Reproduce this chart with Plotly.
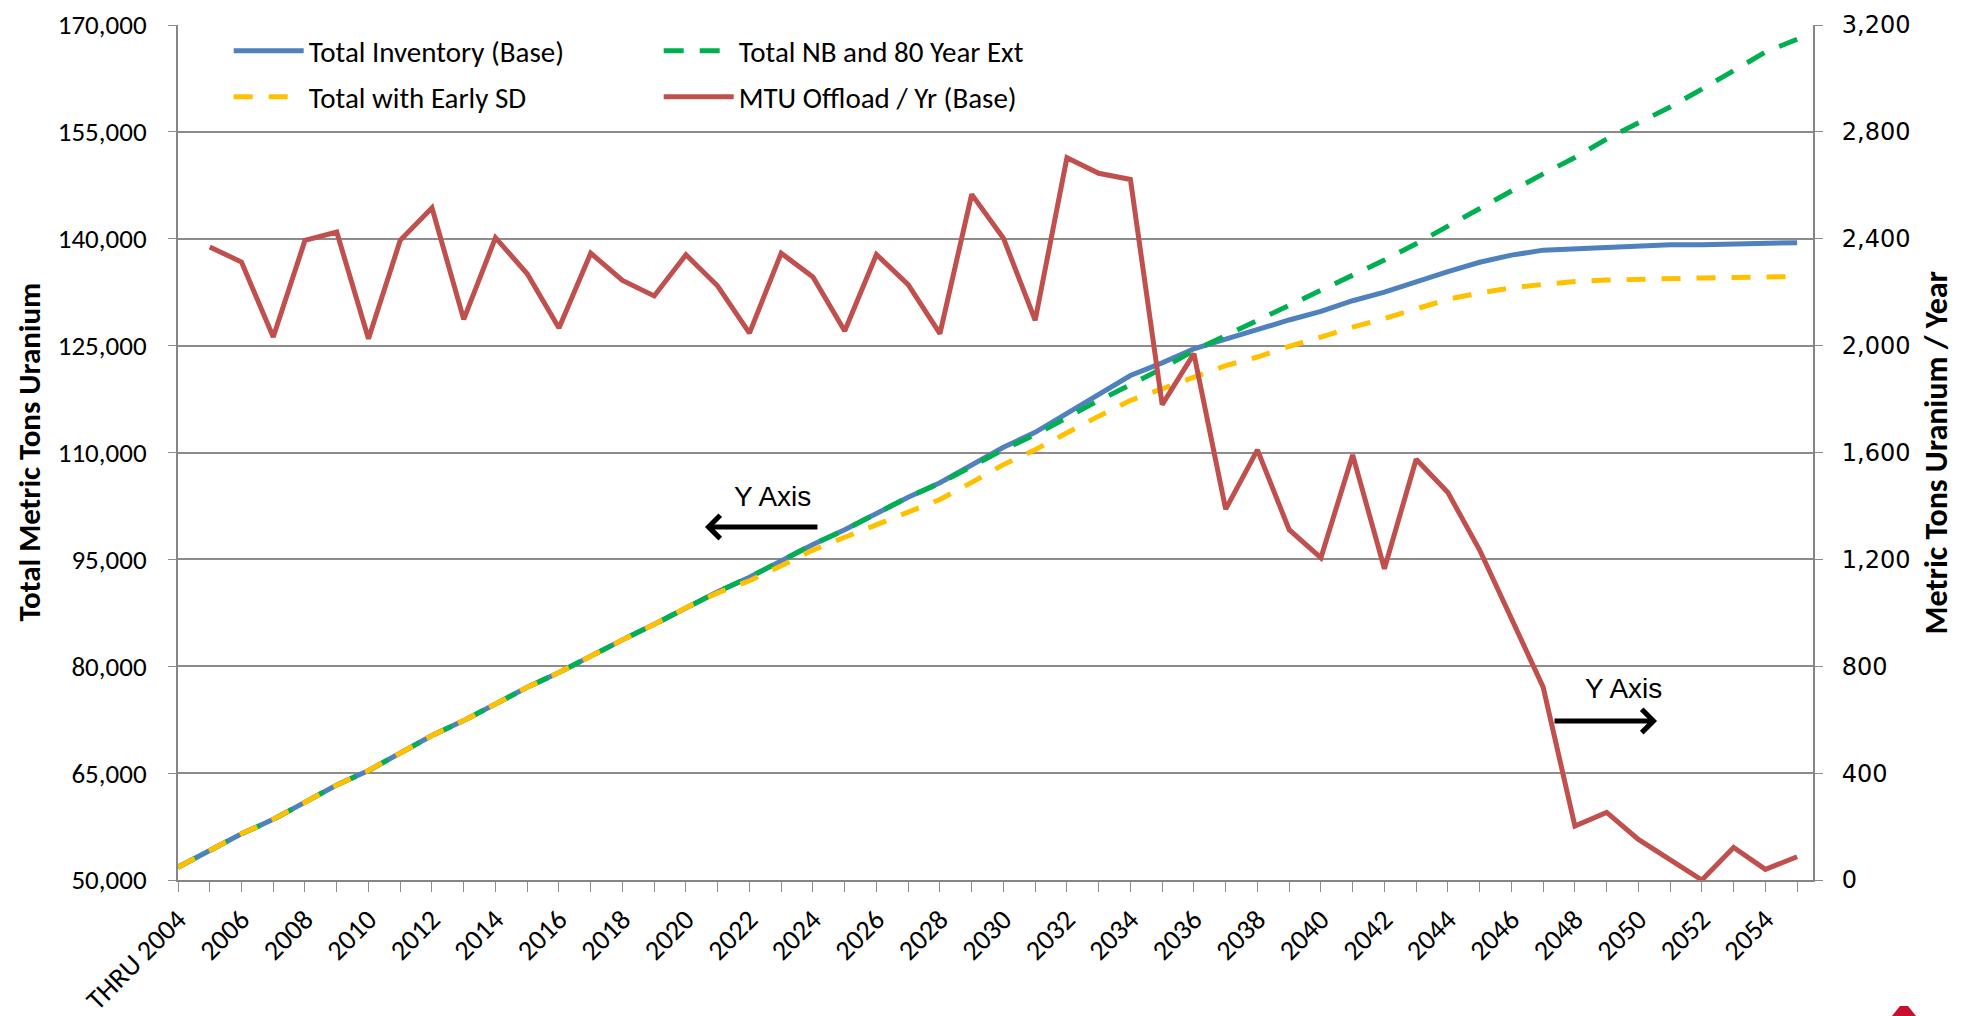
import plotly.graph_objects as go

# Category axis: cumulative inventory through 2004, then one point per year
years = list(range(2004, 2056))
tick_labels = ["THRU 2004"] + [str(y) if (y - 2004) % 2 == 0 else "" for y in years[1:]]

# Total spent-fuel inventory, metric tons uranium (left axis)
total_inventory_base = [
    51800, 54170, 56480, 58510, 60910, 63330, 65360, 67750, 70270, 72370,
    74770, 77040, 79110, 81450, 83700, 85880, 88220, 90450, 92490, 94840,
    97100, 99150, 101490, 103720, 105760, 108330, 110730, 112830, 115530, 118180,
    120800, 122580, 124550, 125900, 127300, 128600, 129800, 131300, 132500, 134000,
    135400, 136700, 137700, 138400, 138600, 138900, 139050, 139150, 139150, 139300,
    139350, 139450,
]

total_nb_80yr_ext = [
    51800, 54170, 56480, 58510, 60910, 63330, 65360, 67750, 70270, 72370,
    74770, 77040, 79110, 81450, 83700, 85880, 88220, 90450, 92490, 94840,
    97100, 99150, 101490, 103720, 105700, 108100, 110400, 112500, 115000, 117300,
    119500, 121800, 124300, 126400, 128500, 130600, 132700, 134800, 137000, 139300,
    141800, 144200, 146700, 149100, 151400, 154000, 156300, 158500, 161000, 163700,
    166200, 168000,
]

total_early_sd = [
    51800, 54170, 56480, 58510, 60910, 63330, 65360, 67750, 70270, 72370,
    74770, 77040, 79110, 81450, 83700, 85880, 88220, 90300, 92000, 94100,
    96300, 98100, 99900, 101700, 103400, 105800, 108300, 110400, 112800, 115100,
    117300, 118900, 120600, 122200, 123400, 124900, 126200, 127600, 128800, 130100,
    131500, 132400, 133100, 133600, 134000, 134200, 134350, 134450, 134500, 134550,
    134600, 134700,
]

# Annual discharge, metric tons uranium per year (right axis)
mtu_offload_base = [
    None, 2369, 2313, 2032, 2394, 2425, 2026, 2394, 2516, 2098,
    2404, 2269, 2066, 2346, 2244, 2186, 2340, 2223, 2047, 2346,
    2257, 2055, 2341, 2228, 2045, 2566, 2402, 2095, 2703, 2645,
    2622, 1779, 1970, 1388, 1610, 1311, 1206, 1591, 1165, 1575,
    1450, 1235, 975, 722, 202, 253, 152, 75, 0, 122,
    40, 87,
]

left_ticks = [50000, 65000, 80000, 95000, 110000, 125000, 140000, 155000, 170000]
right_ticks = [0, 400, 800, 1200, 1600, 2000, 2400, 2800, 3200]

BLUE = "#4F81BD"
GREEN = "#00B050"
YELLOW = "#FFC000"
RED = "#C0504D"
GRID = "#8C8C8C"
BODY_FONT = "Carlito, Lato, 'Open Sans', sans-serif"

x = list(range(len(years)))

fig = go.Figure()
fig.add_trace(go.Scatter(
    x=x, y=total_inventory_base, mode="lines", name="Total Inventory (Base)",
    line=dict(color=BLUE, width=5), legend="legend",
))
fig.add_trace(go.Scatter(
    x=x, y=total_nb_80yr_ext, mode="lines", name="Total NB and 80 Year Ext",
    line=dict(color=GREEN, width=5, dash="20px,16px"), legend="legend2",
))
fig.add_trace(go.Scatter(
    x=x, y=total_early_sd, mode="lines", name="Total with Early SD",
    line=dict(color=YELLOW, width=5, dash="19px,16px"), legend="legend3",
))
fig.add_trace(go.Scatter(
    x=x, y=mtu_offload_base, mode="lines", name="MTU Offload / Yr (Base)",
    line=dict(color=RED, width=5), yaxis="y2", legend="legend4",
))

legend_common = dict(
    bgcolor="rgba(0,0,0,0)", borderwidth=0, itemwidth=70,
    font=dict(family=BODY_FONT, size=29, color="#000"),
    xanchor="left", yanchor="middle", orientation="v",
)
row1, row2 = 0.9696, 0.9158
col1, col2 = 0.031, 0.294

fig.update_layout(
    width=1966, height=1016,
    margin=dict(l=178, r=153, t=25, b=136),
    paper_bgcolor="white", plot_bgcolor="white",
    font=dict(family=BODY_FONT, size=28, color="#000"),
    showlegend=True,
    legend=dict(x=col1, y=row1, **legend_common),
    legend2=dict(x=col2, y=row1, **legend_common),
    legend3=dict(x=col1, y=row2, **legend_common),
    legend4=dict(x=col2, y=row2, **legend_common),
    xaxis=dict(
        range=[0, 51.5], tickmode="array", tickvals=x, ticktext=tick_labels,
        tickangle=-45, ticks="outside", ticklen=10, tickwidth=1.3, tickcolor="#8C8C8C",
        showline=True, linecolor="#868686", linewidth=2, showgrid=False, zeroline=False,
        automargin=False,
        tickfont=dict(family=BODY_FONT, size=28, color="#000"),
    ),
    yaxis=dict(
        range=[50000, 170000], tickmode="array", tickvals=left_ticks,
        tickformat=",d", ticks="outside", ticklen=8, tickwidth=1.3, tickcolor="#8C8C8C",
        showline=True, linecolor="#868686", linewidth=2,
        showgrid=True, gridcolor=GRID, gridwidth=1.5, zeroline=False,
        ticklabelstandoff=16, automargin=False,
        tickfont=dict(family=BODY_FONT, size=27, color="#000"),
    ),
    yaxis2=dict(
        range=[0, 3200], tickmode="array", tickvals=right_ticks,
        tickformat=",d", overlaying="y", side="right",
        ticks="outside", ticklen=8, tickwidth=1.3, tickcolor="#8C8C8C",
        showline=True, linecolor="#868686", linewidth=2,
        showgrid=False, zeroline=False, ticklabelstandoff=14, automargin=False,
        tickfont=dict(family="DejaVu Sans", size=24, color="#000"),
    ),
)

# Axis titles
fig.add_annotation(
    text="<b>Total Metric Tons Uranium</b>", textangle=-90,
    xref="paper", yref="paper", x=-0.0917, y=0.5, showarrow=False,
    xanchor="center", yanchor="middle",
    font=dict(family=BODY_FONT, size=31, color="#000"),
)
fig.add_annotation(
    text="<b>Metric Tons Uranium / Year</b>", textangle=-90,
    xref="paper", yref="paper", x=1.0758, y=0.5, showarrow=False,
    xanchor="center", yanchor="middle",
    font=dict(family=BODY_FONT, size=32, color="#000"),
)

# "Y Axis" call-outs pointing at each scale (arrow tails offset in pixels)
arrow_font = dict(family="Liberation Sans, Arial, sans-serif", size=28, color="#000")
fig.add_annotation(text="Y Axis", xref="paper", yref="paper", x=0.3639, y=0.448,
                   xanchor="center", yanchor="middle", showarrow=False, font=arrow_font)
fig.add_annotation(
    text="", xref="paper", yref="paper",
    x=0.3223, y=0.4129, ax=114, ay=0,
    showarrow=True, arrowhead=4, arrowsize=0.9, arrowwidth=5, arrowcolor="#000",
)
fig.add_annotation(text="Y Axis", xref="paper", yref="paper", x=0.8838, y=0.2234,
                   xanchor="center", yanchor="middle", showarrow=False, font=arrow_font)
fig.add_annotation(
    text="", xref="paper", yref="paper",
    x=0.9046, y=0.1860, ax=-104, ay=0,
    showarrow=True, arrowhead=4, arrowsize=0.9, arrowwidth=5, arrowcolor="#000",
)

# Corner logo fragment at the bottom edge
fig.add_shape(
    type="path", xref="paper", yref="paper",
    path="M1.0483,-0.1591 L1.0532,-0.1474 L1.0581,-0.1474 L1.0630,-0.1591 Z",
    fillcolor="#C8102E", line=dict(width=0),
)

fig.write_html("out.html")
